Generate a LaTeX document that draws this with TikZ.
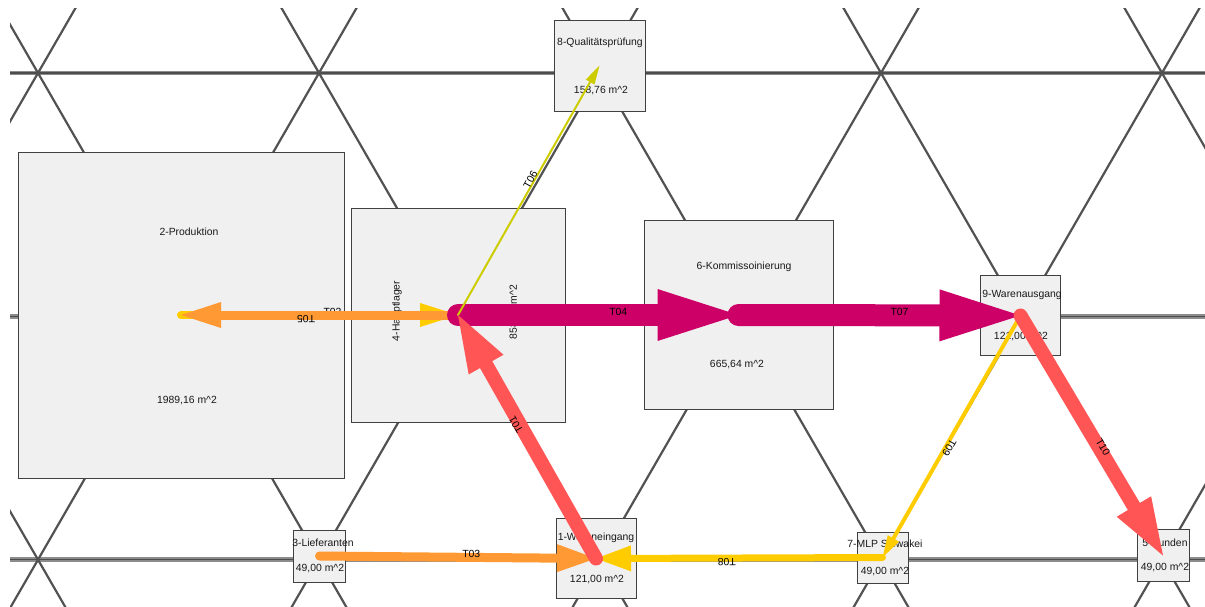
\documentclass[tikz,border=0pt]{standalone}
\usepackage{fontspec}
\setmainfont{Liberation Sans}
\usetikzlibrary{arrows.meta}

\definecolor{flowmag}{HTML}{CC0066}
\definecolor{flowred}{HTML}{FF5555}
\definecolor{floworange}{HTML}{FF9933}
\definecolor{flowyellow}{HTML}{FFCC00}
\definecolor{flowolive}{HTML}{CCCC00}
\definecolor{boxfill}{HTML}{F0F0F0}

\tikzset{
  box/.style={draw=black!75, fill=boxfill, line width=0.9pt, inner sep=0pt, minimum size=#1},
  txt/.style={inner sep=0pt, text=black!90},
  gridh/.style={draw=black!45, line width=4.5pt},
  gridhcore/.style={draw=black!70, line width=1.3pt},
  gridd/.style={draw=black!68, line width=2.2pt},
  flow/.style={line cap=round},
  head/.style 2 args={-{Triangle[length=#1pt,width=#2pt,line width=0pt]}},
  lbl/.style={sloped, allow upside down, anchor=base west, inner sep=0pt, pos=0.5, text=black}
}

\begin{document}
\begin{tikzpicture}[x=1pt, y=-1pt, font=\fontsize{10.4}{12}\selectfont]
\useasboundingbox (0,0) rectangle (1205,606);

% triangular lattice in the background
\begin{scope}
  \clip (10,8) rectangle (1205,606);
  \foreach \yy in {73,316.3,559.6} {
    \draw[gridh] (0,\yy) -- (1205,\yy);
    \draw[gridhcore] (0,\yy) -- (1205,\yy);
  }
  \foreach \k in {-3,...,6} {
    \pgfmathsetmacro\xo{38+281*\k}
    \draw[gridd] ({\xo-350},{73-606.2}) -- ({\xo+350},{73+606.2});
    \draw[gridd] ({\xo-350},{73+606.2}) -- ({\xo+350},{73-606.2});
  }
\end{scope}

% areas
\node[box=91pt]  (q8) at (599.5,65.5) {};
\node[box=326pt] (p2) at (181,315) {};
\node[box=214pt] (h4) at (458,315) {};
\node[box=189pt] (k6) at (738.5,315) {};
\node[box=80pt]  (w9) at (1020.5,315.5) {};
\node[box=52pt]  (l3) at (319.5,556) {};
\node[box=80pt]  (e1) at (596,558.5) {};
\node[box=51pt]  (m7) at (882.5,557.5) {};
\node[box=52pt]  (c5) at (1163,555.5) {};

% area names and sizes
\node[txt] (q8n) at (600,43) {8-Qualitätsprüfung};
\node[txt] (q8a) at (601,91) {158,76 m\textasciicircum 2};
\node[txt] (p2n) at (189,232) {2-Produktion};
\node[txt] (p2a) at (187,401) {1989,16 m\textasciicircum 2};
\node[txt, rotate=90] (h4n) at (397,311) {4-Hauptlager};
\node[txt, rotate=90] (h4a) at (514,312) {858,49 m\textasciicircum 2};
\node[txt] (k6n) at (744,267) {6-Kommissoinierung};
\node[txt] (k6a) at (737,365) {665,64 m\textasciicircum 2};
\node[txt] (w9n) at (1022,295) {9-Warenausgang};
\node[txt] (w9a) at (1021,337) {121,00 m\textasciicircum 2};
\node[txt] (l3n) at (323,543) {3-Lieferanten};
\node[txt] (l3a) at (320,569) {49,00 m\textasciicircum 2};
\node[txt] (e1n) at (596,538) {1-Wareneingang};
\node[txt] (e1a) at (597,580) {121,00 m\textasciicircum 2};
\node[txt] (m7n) at (885,544) {7-MLP Slowakei};
\node[txt] (m7a) at (885,572) {49,00 m\textasciicircum 2};
\node[txt] (c5n) at (1165,543) {5-Kunden};
\node[txt] (c5a) at (1165,568) {49,00 m\textasciicircum 2};

% transport flows
\draw[flow, flowyellow, line width=8pt, head={38}{24}] (p2.center) -- node[lbl] {T02} (h4.center);
\draw[flow, floworange, line width=9pt, head={40}{26}] (h4.center) -- node[lbl] {T05} (p2.center);
\draw[flow, floworange, line width=9pt, head={39}{28}] (l3.center) -- node[lbl] {T03} (e1.center);
\draw[flow, flowyellow, line width=7pt, head={35}{26}] (m7.center) -- node[lbl] {T08} (e1.center);
\draw[flow, flowyellow, line width=4pt, head={22}{13}] (w9.center) -- node[lbl] {T09} (m7.center);
\draw[flow, flowmag, line width=22pt, head={81}{52}] (h4.center) -- node[lbl] {T04} (k6.center);
\draw[flow, flowmag, line width=22pt, head={81}{52}] (k6.center) -- node[lbl] {T07} (w9.center);
\draw[flow, flowolive, line width=2pt, head={19}{10}] (h4.center) -- node[lbl] {T06} (q8.center);
\draw[flow, flowred, line width=14pt, head={57}{40}] (e1.center) -- node[lbl] {T01} (h4.center);
\draw[flow, flowred, line width=14pt, head={57}{40}] (w9.center) -- node[lbl] {T10} (c5.center);

\end{tikzpicture}
\end{document}
